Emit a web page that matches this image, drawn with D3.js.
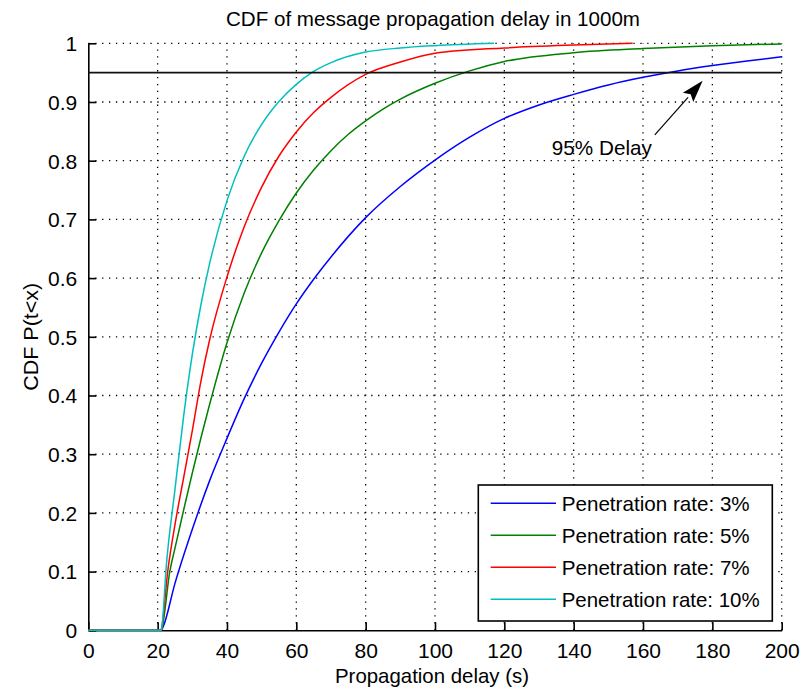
<!DOCTYPE html>
<html>
<head>
<meta charset="utf-8">
<script src="https://cdn.jsdelivr.net/npm/d3@7"></script>
<style>
  body { margin: 0; background: #fff; }
  text { font-family: "Liberation Sans", Arial, sans-serif; fill: #000; }
</style>
</head>
<body>
<svg width="806" height="691"></svg>
<script>
// CDF points: [delay (s), P]
const rate3 = [[0,0],[21,0],[21.5,0.005],[25,0.08],[30,0.172],[35,0.255],[40,0.327],[45,0.395],[50,0.455],[55,0.508],[60,0.556],[65,0.598],[70,0.636],[80,0.703],[90,0.756],[100,0.801],[110,0.84],[120,0.872],[130,0.895],[140,0.913],[150,0.929],[160,0.942],[170,0.953],[180,0.962],[190,0.97],[200,0.977]];
const rate5 = [[0,0],[21,0],[21.3,0.005],[23.5,0.1],[25,0.14],[27.5,0.205],[30,0.268],[35,0.385],[40,0.49],[45,0.575],[50,0.643],[55,0.698],[60,0.745],[65,0.784],[70,0.817],[75,0.845],[80,0.868],[85,0.888],[90,0.905],[100,0.932],[110,0.953],[120,0.969],[140,0.984],[160,0.991],[180,0.996],[200,0.999]];
const rate7 = [[0,0],[21,0],[21.2,0.005],[22.9,0.1],[25,0.18],[27.5,0.26],[30,0.34],[32.5,0.425],[35,0.495],[40,0.602],[45,0.688],[50,0.755],[55,0.808],[60,0.849],[65,0.882],[70,0.908],[80,0.947],[90,0.968],[100,0.983],[120,0.992],[140,0.997],[157,1.0]];
const rate10 = [[0,0],[21,0],[21.2,0.005],[22.5,0.11],[25,0.24],[27.5,0.365],[30,0.47],[32.5,0.555],[35,0.625],[40,0.732],[45,0.808],[50,0.862],[55,0.901],[60,0.93],[65,0.952],[70,0.967],[80,0.985],[90,0.992],[100,0.996],[117,1.0]];

const seriesNames = ["Penetration rate: 3%", "Penetration rate: 5%", "Penetration rate: 7%", "Penetration rate: 10%"];
const seriesColors = ["#0000ff", "#008000", "#ff0000", "#00bfbf"];
const seriesData = [rate3, rate5, rate7, rate10];

const xTicks = [0, 20, 40, 60, 80, 100, 120, 140, 160, 180, 200];
const yTicks = [0, 0.1, 0.2, 0.3, 0.4, 0.5, 0.6, 0.7, 0.8, 0.9, 1];
const level95 = 0.95;
// annotation arrow, in data units: tail -> head
const arrowTail = [163.4, 0.844];
const arrowHead = [177.2, 0.936];
const noteAt = [133.7, 0.81];

const svg = d3.select("svg");
const plot = { left: 88.3, right: 781.7, top: 43.3, bottom: 630.3 };

const x = d3.scaleLinear().domain([0, 200]).range([plot.left, plot.right]);
const y = d3.scaleLinear().domain([0, 1]).range([plot.bottom, plot.top]);

// dotted grid
const grid = svg.append("g").attr("stroke", "#000").attr("stroke-width", 1.3)
    .attr("stroke-dasharray", "1.3,5.6");
grid.selectAll(".gx").data(xTicks.slice(1)).enter().append("line")
    .attr("x1", d => x(d)).attr("x2", d => x(d))
    .attr("y1", plot.bottom).attr("y2", plot.top);
grid.selectAll(".gy").data(yTicks.slice(1)).enter().append("line")
    .attr("x1", plot.left).attr("x2", plot.right)
    .attr("y1", d => y(d)).attr("y2", d => y(d));

// axes (ticks pointing inward)
const xAxis = svg.append("g")
    .attr("transform", `translate(0,${plot.bottom})`)
    .call(d3.axisBottom(x).tickValues(xTicks).tickSizeInner(-8).tickSizeOuter(0).tickPadding(13));
const yAxis = svg.append("g")
    .attr("transform", `translate(${plot.left},0)`)
    .call(d3.axisLeft(y).tickValues(yTicks).tickFormat(d3.format("~g")).tickSizeInner(-8).tickSizeOuter(0).tickPadding(11));

[xAxis, yAxis].forEach(a => {
    a.select(".domain").attr("stroke", "#000").attr("stroke-width", 1.6);
    a.selectAll(".tick line").attr("stroke", "#000").attr("stroke-width", 1.6);
    a.selectAll(".tick text").attr("font-size", 21).attr("fill", "#000")
        .style("font-family", "'Liberation Sans', Arial, sans-serif");
});
xAxis.selectAll(".tick text").attr("dy", "0.71em");
yAxis.selectAll(".tick text").attr("dy", "0.35em");

// curves
const line = d3.line().x(d => x(d[0])).y(d => y(d[1])).curve(d3.curveMonotoneX);
svg.selectAll(".cdf").data(seriesData).enter().append("path")
    .attr("class", "cdf")
    .attr("d", line)
    .attr("fill", "none")
    .attr("stroke", (d, i) => seriesColors[i])
    .attr("stroke-width", 1.5);

// 95% level
svg.append("line")
    .attr("x1", x(0)).attr("x2", x(200))
    .attr("y1", y(level95)).attr("y2", y(level95))
    .attr("stroke", "#111").attr("stroke-width", 1.8);

// annotation arrow
const tx = x(arrowTail[0]), ty = y(arrowTail[1]);
const hx = x(arrowHead[0]), hy = y(arrowHead[1]);
const ang = Math.atan2(hy - ty, hx - tx);
const headLen = 22, headHalf = 7;
const bx = hx - headLen * Math.cos(ang), by = hy - headLen * Math.sin(ang);
svg.append("line")
    .attr("x1", tx).attr("y1", ty).attr("x2", bx).attr("y2", by)
    .attr("stroke", "#000").attr("stroke-width", 1.2);
svg.append("path")
    .attr("d", `M${hx},${hy}L${bx + headHalf * Math.sin(ang)},${by - headHalf * Math.cos(ang)}L${bx + 4 * Math.cos(ang)},${by + 4 * Math.sin(ang)}L${bx - headHalf * Math.sin(ang)},${by + headHalf * Math.cos(ang)}Z`)
    .attr("fill", "#000");
svg.append("text")
    .attr("x", x(noteAt[0])).attr("y", y(noteAt[1]))
    .attr("font-size", 21).attr("textLength", 100).attr("lengthAdjust", "spacingAndGlyphs")
    .text("95% Delay");

// legend
const legend = svg.append("g").attr("transform", "translate(478.3,485)");
legend.append("rect")
    .attr("width", 294).attr("height", 136)
    .attr("fill", "#fff").attr("stroke", "#000").attr("stroke-width", 1.6);
const rows = legend.selectAll(".row").data(seriesNames).enter().append("g")
    .attr("transform", (d, i) => `translate(0,${18.3 + i * 32})`);
rows.append("line")
    .attr("x1", 12.4).attr("x2", 77.7)
    .attr("stroke", (d, i) => seriesColors[i]).attr("stroke-width", 1.5);
rows.append("text")
    .attr("x", 83.4).attr("dy", "0.35em")
    .attr("font-size", 21)
    .attr("textLength", (d, i) => i === 3 ? 198 : 188).attr("lengthAdjust", "spacingAndGlyphs")
    .text(d => d);

// titles
svg.append("text")
    .attr("x", 433).attr("y", 26)
    .attr("text-anchor", "middle").attr("font-size", 21)
    .attr("textLength", 414).attr("lengthAdjust", "spacingAndGlyphs")
    .text("CDF of message propagation delay in 1000m");
svg.append("text")
    .attr("x", 432).attr("y", 683)
    .attr("text-anchor", "middle").attr("font-size", 21)
    .attr("textLength", 194).attr("lengthAdjust", "spacingAndGlyphs")
    .text("Propagation delay (s)");
svg.append("text")
    .attr("transform", `translate(38,${(plot.top + plot.bottom) / 2}) rotate(-90)`)
    .attr("text-anchor", "middle").attr("font-size", 21)
    .attr("textLength", 108).attr("lengthAdjust", "spacingAndGlyphs")
    .text("CDF P(t<x)");
</script>
</body>
</html>
